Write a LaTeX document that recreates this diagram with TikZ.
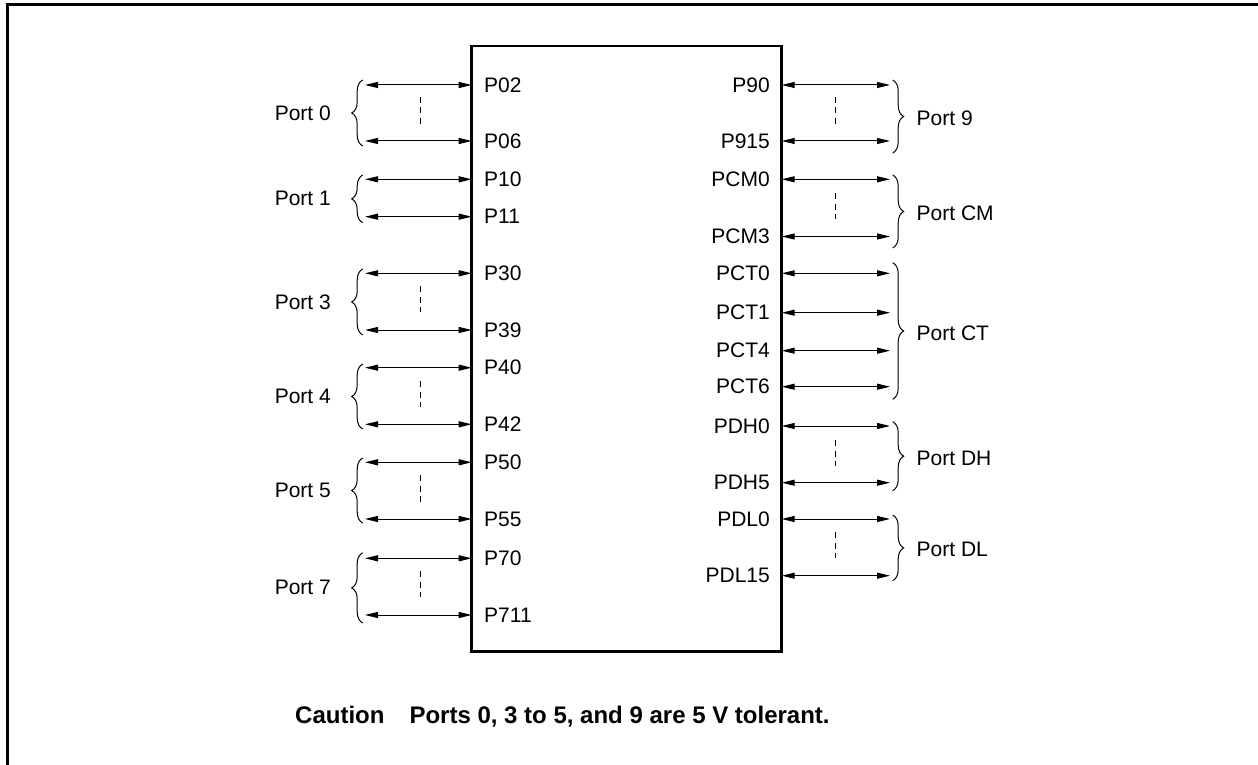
\documentclass[tikz,border=0pt]{standalone}
\usepackage{fontspec}
\setmainfont{Liberation Sans}
\usetikzlibrary{arrows.meta,decorations.pathreplacing}

\begin{document}
\begin{tikzpicture}[x=1pt,y=1pt,
  pinarrow/.style={{Triangle[length=13pt,width=6pt]}-{Triangle[length=13pt,width=6pt]},line width=1pt},
  pinlabel/.style={inner sep=0pt,font=\fontsize{21}{25}\selectfont},
  portbrace/.style={decorate,decoration={brace,amplitude=11pt},line width=1pt},
  gap/.style={dash pattern=on 6pt off 4.5pt,line width=1pt}]
\useasboundingbox (0,0) rectangle (1258,-765);
\draw[line width=2.7pt] (7.2,-765) -- (7.2,-4.7) -- (1258,-4.7);
\node[draw,line width=2.5pt,inner sep=0pt,outer sep=0pt,minimum width=310pt,minimum height=605.7pt] (chip) at (626.7,-348.85) {};
% pins on the left
\foreach \n/\y in {P02/85,P06/141,P10/179.3,P11/216.7,P30/273.3,P39/330,P40/367.7,P42/424.3,P50/462.3,P55/519,P70/558.3,P711/615}{
  \coordinate (\n) at (365,-\y);
  \draw[pinarrow] (\n) -- (\n -| chip.west);
  \node[pinlabel,anchor=west] (\n-label) at (484,-\y) {\n};
}
% pins on the right
\foreach \n/\y in {P90/85,P915/141,PCM0/179.3,PCM3/236.5,PCT0/273.3,PCT1/312.7,PCT4/350.7,PCT6/386.7,PDH0/426,PDH5/482.7,PDL0/519,PDL15/575.7}{
  \coordinate (\n) at (890,-\y);
  \draw[pinarrow] (\n -| chip.east) -- (\n);
  \node[pinlabel,anchor=east] (\n-label) at (770,-\y) {\n};
}
% port groups
\foreach \k/\t/\b in {0/80/146,1/175/222.7,3/269/335,4/364/429,5/458/523,7/552.7/623}{
  \draw[portbrace] (362.7,-\b) -- (362.7,-\t);
  \node[pinlabel,anchor=east] (port\k) at (331,{-(\t+\b)/2}) {Port \k};
}
\foreach \k/\t/\b in {9/80/153,CM/175/248,CT/262.7/399.3,DH/421.7/490.7,DL/515/580.7}{
  \draw[portbrace] (892.7,-\t) -- (892.7,-\b);
  \node[pinlabel,anchor=west] (port\k) at (916.5,{-(\t+\b)/2-2}) {Port \k};
}
% omitted pins
\foreach \x/\t/\b in {420/97/124,420/286/312,420/381/407,420/475/502,420/571/597,835/97/124,835/193/219,835/440/466,835/532/558}{
  \draw[gap] (\x,-\t) -- (\x,-\b);
}
\node[anchor=base west,inner sep=0pt,font=\bfseries\fontsize{24}{28}\selectfont] (caution) at (295,-723.3) {Caution\hspace{25pt}Ports 0, 3 to 5, and 9 are 5 V tolerant.};
\end{tikzpicture}
\end{document}
